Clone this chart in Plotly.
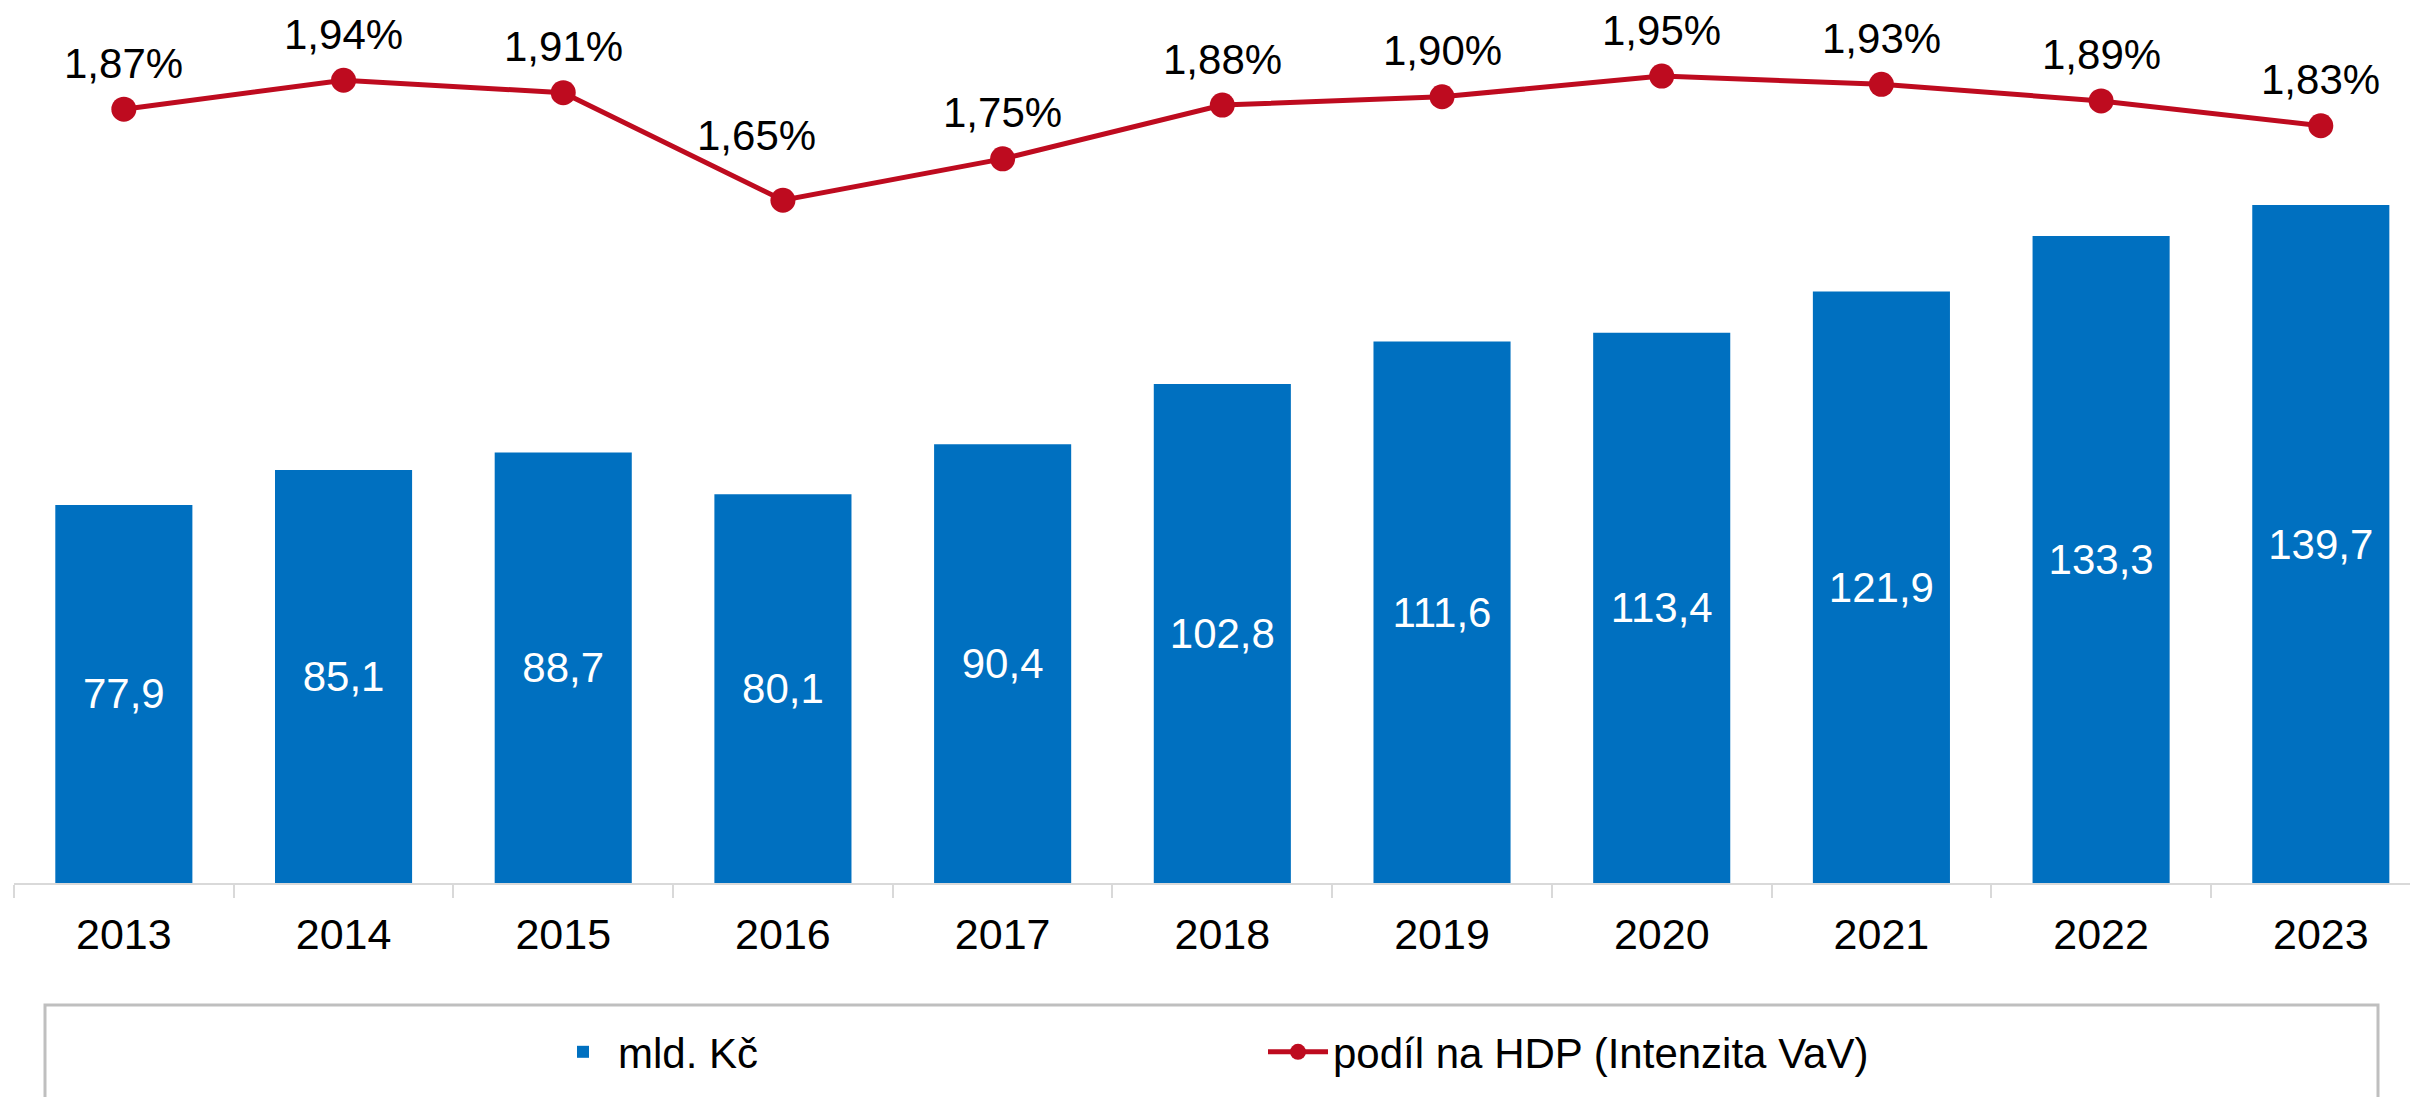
import plotly.graph_objects as go

years = ["2013", "2014", "2015", "2016", "2017", "2018", "2019", "2020", "2021", "2022", "2023"]
spend_bn_czk = [77.9, 85.1, 88.7, 80.1, 90.4, 102.8, 111.6, 113.4, 121.9, 133.3, 139.7]
gdp_share_pct = [1.87, 1.94, 1.91, 1.65, 1.75, 1.88, 1.90, 1.95, 1.93, 1.89, 1.83]

bar_name = "mld. Kč"
line_name = "podíl na HDP (Intenzita VaV)"

BLUE = "#0070C0"
RED = "#BE0B1F"
FONT = "Liberation Sans, Arial, sans-serif"

bar_labels = [f"{v:.1f}".replace(".", ",") for v in spend_bn_czk]
line_labels = [f"{v:.2f}".replace(".", ",") + "%" for v in gdp_share_pct]

# label placement (style): default offset above the point, one label moved manually
label_dy = {"2016": 65}
label_dx = {"2016": -26}

W, H = 2410, 1097
ml, mr, mt, mb = 14, 0, 10, 214
plot_h = H - mt - mb
plot_w = W - ml - mr

fig = go.Figure()
fig.add_trace(go.Bar(
    x=years, y=spend_bn_czk, name=bar_name,
    marker=dict(color=BLUE, line=dict(width=0)),
    text=bar_labels, textposition="inside", insidetextanchor="middle",
    textfont=dict(color="white", size=42, family=FONT),
    textangle=0, yaxis="y",
))
fig.add_trace(go.Scatter(
    x=years, y=gdp_share_pct, name=line_name, yaxis="y2",
    mode="lines+markers",
    line=dict(color=RED, width=5),
    marker=dict(color=RED, size=25),
    cliponaxis=False,
))

annotations = []
for i, (yr, v, lab) in enumerate(zip(years, gdp_share_pct, line_labels)):
    annotations.append(dict(
        x=i, y=v, xref="x", yref="y2", text=lab, showarrow=False,
        xanchor="center", yanchor="middle",
        yshift=label_dy.get(yr, 46), xshift=label_dx.get(yr, 0),
        font=dict(size=42, family=FONT, color="black"),
    ))

fig.update_layout(
    width=W, height=H,
    margin=dict(l=ml, r=mr, t=mt, b=mb),
    paper_bgcolor="white", plot_bgcolor="white",
    font=dict(family=FONT, size=42, color="black"),
    bargap=0.376,
    showlegend=True,
    legend=dict(
        orientation="h", x=(548 - ml) / plot_w, xanchor="left",
        y=-(1052 - (H - mb)) / plot_h, yanchor="middle",
        font=dict(size=42, family=FONT, color="black"),
        entrywidth=640, itemwidth=60,
        bgcolor="rgba(0,0,0,0)", borderwidth=0,
    ),
    xaxis=dict(
        type="category", range=[-0.5, 10.406],
        showline=True, linecolor="#d9d9d9", linewidth=2,
        ticks="outside", tickson="boundaries", ticklen=13, tickcolor="#d9d9d9", tickwidth=2,
        tickfont=dict(size=43, family=FONT, color="black"),
        ticklabelstandoff=12,
        showgrid=False, zeroline=False,
    ),
    yaxis=dict(range=[0, plot_h / 4.853], visible=False, showgrid=False, zeroline=False),
    yaxis2=dict(range=[0, plot_h / 413.8], overlaying="y", side="right",
                visible=False, showgrid=False, zeroline=False),
    annotations=annotations,
    shapes=[dict(
        type="rect", xref="paper", yref="paper",
        x0=(45 - ml) / plot_w, x1=(2378 - ml) / plot_w,
        y0=-(1005 - (H - mb)) / plot_h, y1=-(1120 - (H - mb)) / plot_h,
        line=dict(color="#BFBFBF", width=3), fillcolor="rgba(0,0,0,0)", layer="below",
    )],
)

fig.write_html(
    "out.html",
    config={"displayModeBar": False},
    post_script="document.body.style.margin='0';document.body.style.overflow='hidden';",
)
